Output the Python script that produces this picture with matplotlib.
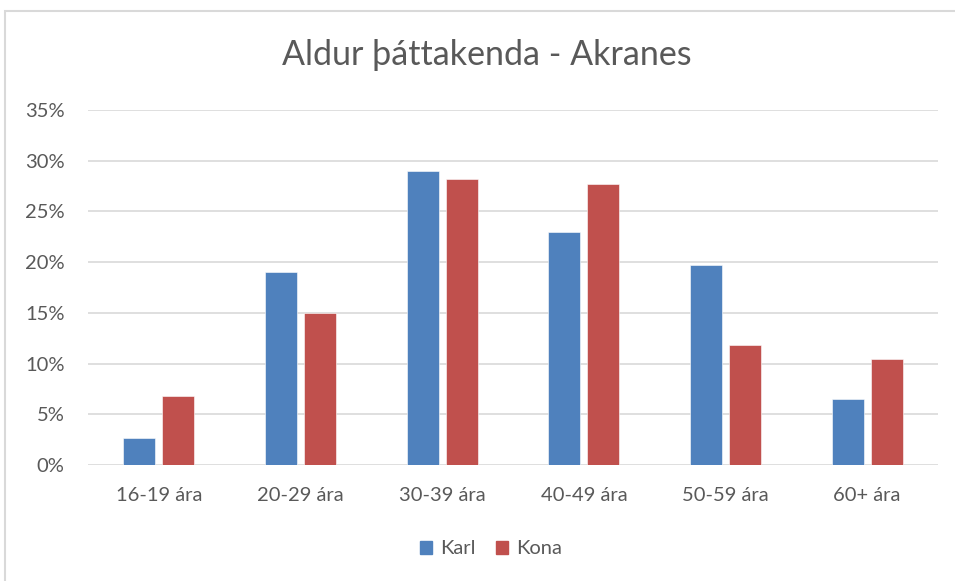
import matplotlib
matplotlib.use("Agg")
import matplotlib.pyplot as plt
import numpy as np
from matplotlib.patches import Rectangle, Patch
from matplotlib.ticker import FuncFormatter

plt.rcParams['font.family'] = ['Lato', 'DejaVu Sans']

categories = ['16-19 ára', '20-29 ára', '30-39 ára', '40-49 ára', '50-59 ára', '60+ ára']
karl = [2.63, 19.07, 28.96, 22.98, 19.69, 6.54]
kona = [6.80, 15.02, 28.17, 27.68, 11.83, 10.45]
series_names = ['Karl', 'Kona']

BLUE = '#4F81BD'
RED = '#C0504D'
TXT = '#595959'

W, H = 955, 581
fig = plt.figure(figsize=(W / 100, H / 100), dpi=100)
fig.patch.set_facecolor('white')

# chart border (cropped on right/bottom)
fig.patches.append(Rectangle((5 / W, -0.05), 1.1, 1 - 11 / H + 0.05, transform=fig.transFigure,
                             fill=False, edgecolor='#d9d9d9', linewidth=1.5))

ax = fig.add_axes([88 / W, 1 - 465 / H, (938 - 88) / W, (465 - 110) / H])
x = np.arange(len(categories))
bw = 0.226
off = 0.138
ax.bar(x - off, np.array(karl) / 100, bw, color=BLUE, edgecolor='white', linewidth=0.4, zorder=3)
ax.bar(x + off, np.array(kona) / 100, bw, color=RED, edgecolor='white', linewidth=0.4, zorder=3)

ax.set_xlim(-0.5, len(categories) - 0.5)
ax.set_ylim(0, 0.35)
ax.set_yticks(np.arange(0, 0.351, 0.05))
ax.yaxis.set_major_formatter(FuncFormatter(lambda v, p: f'{v * 100:.0f}%'))
ax.set_xticks(x)
ax.set_xticklabels(categories)
ax.grid(axis='y', color='#d9d9d9', linewidth=1.2, zorder=0)
for s in ax.spines.values():
    s.set_visible(False)
ax.tick_params(axis='both', length=0, labelsize=14.5, colors=TXT)
ax.tick_params(axis='y', pad=17)
ax.tick_params(axis='x', pad=16)

fig.text(487 / W, 1 - 55 / H, 'Aldur þáttakenda - Akranes', ha='center', va='center',
         fontsize=24.5, color=TXT)

handles = [Patch(color=BLUE, label=series_names[0]), Patch(color=RED, label=series_names[1])]
fig.legend(handles=handles, loc='center', bbox_to_anchor=(491 / W, 1 - 549 / H), ncol=2,
           frameon=False, fontsize=14.5, labelcolor=TXT, handlelength=0.6, handleheight=0.6,
           handletextpad=0.4, columnspacing=1.0)

fig.savefig('out.png', dpi=100)
